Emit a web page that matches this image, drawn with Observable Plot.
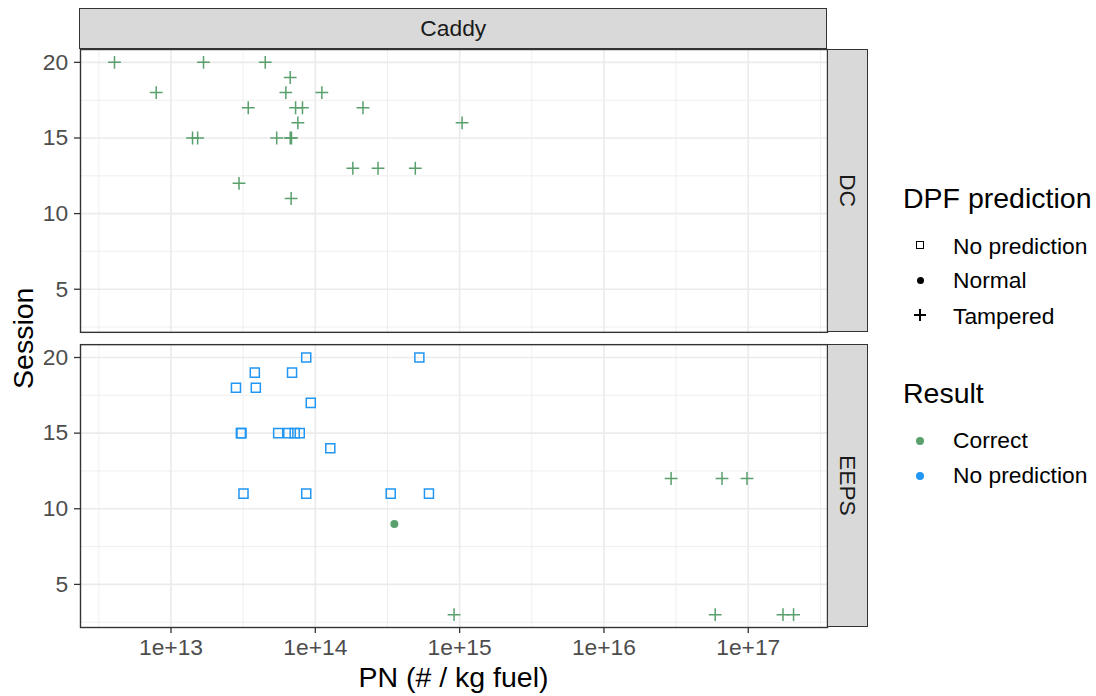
<!DOCTYPE html>
<html>
<head>
<meta charset="utf-8">
<script src="https://cdn.jsdelivr.net/npm/d3@7"></script>
<script src="https://cdn.jsdelivr.net/npm/@observablehq/plot@0.6"></script>
<style>
  body { margin: 0; background: #fff; }
  #wrap { position: relative; width: 1096px; height: 696px; overflow: hidden; background: #fff;
          font-family: "Liberation Sans", Arial, Helvetica, sans-serif; }
  #wrap > svg { position: absolute; left: 0; top: 0; }
  .strip { position: absolute; background: #d9d9d9; border: 1.4px solid #333; box-sizing: border-box;
           display: flex; align-items: center; justify-content: center; color: #1a1a1a; font-size: 22.8px; }
  .vtext { writing-mode: vertical-rl; }
  .lt { position: absolute; font-size: 28.5px; line-height: 28.5px; color: #000; white-space: nowrap; }
  .li { position: absolute; font-size: 22.8px; line-height: 22.8px; color: #000; white-space: nowrap; }
  .sw { position: absolute; box-sizing: border-box; }
</style>
</head>
<body>
<div id="wrap"></div>
<script>
// ---- data ----
const panels = ["DC", "EEPS"];
const predictions = ["No prediction", "Normal", "Tampered"];
const results = ["Correct", "No prediction"];
const resultColors = ["#59a06d", "#2196f3"];

// DC: all Tampered / Correct
const dcPN = [4.06e12, 1.68e13, 4.5e13, 6.7e13, 7.9e12, 6.25e13, 1.11e14, 3.43e13, 7.3e13, 8.15e13, 2.14e14,
              7.57e13, 1.04e15, 1.41e13, 1.53e13, 5.4e13, 6.7e13, 6.84e13, 1.82e14, 2.72e14, 4.93e14, 2.96e13, 6.8e13];
const dcSession = [20, 20, 20, 19, 18, 18, 18, 17, 17, 17, 17, 16, 16, 15, 15, 15, 15, 15, 13, 13, 13, 12, 11];

// EEPS: No prediction / No prediction
const eepsNoPredPN = [8.65e13, 5.26e14, 3.81e13, 6.9e13, 2.82e13, 3.87e13, 9.3e13, 3.05e13, 3.08e13, 5.53e13,
                      6.5e13, 7.2e13, 7.8e13, 1.27e14, 3.18e13, 8.65e13, 3.33e14, 6.13e14];
const eepsNoPredSession = [20, 20, 19, 19, 18, 18, 17, 15, 15, 15, 15, 15, 15, 14, 11, 11, 11, 11];

// EEPS: Normal / Correct
const eepsNormalPN = [3.53e14];
const eepsNormalSession = [9];

// EEPS: Tampered / Correct
const eepsTamperedPN = [2.92e16, 6.58e16, 9.8e16, 9.15e14, 5.9e16, 1.74e17, 2.06e17];
const eepsTamperedSession = [12, 12, 12, 3, 3, 3, 3];

// axis ticks
const xMajor = [1e13, 1e14, 1e15, 1e16, 1e17];
const xTickLabels = ["1e+13", "1e+14", "1e+15", "1e+16", "1e+17"];
const xMinor = [10 ** 12.5, 10 ** 13.5, 10 ** 14.5, 10 ** 15.5, 10 ** 16.5, 10 ** 17.5];
const yMajor = [5, 10, 15, 20];
const yMinor = [2.5, 7.5, 12.5, 17.5];

// ---- table ----
const rows = [];
const addRows = (panel, pn, session, prediction, result) =>
  pn.forEach((v, i) => rows.push({panel, pn: v, session: session[i], prediction, result}));
addRows("DC", dcPN, dcSession, "Tampered", "Correct");
addRows("EEPS", eepsNoPredPN, eepsNoPredSession, "No prediction", "No prediction");
addRows("EEPS", eepsNormalPN, eepsNormalSession, "Normal", "Correct");
addRows("EEPS", eepsTamperedPN, eepsTamperedSession, "Tampered", "Correct");

const byPred = p => rows.filter(d => d.prediction === p);
const grid = {stroke: "#ebebeb", strokeOpacity: 1};
const xLabel = d => xTickLabels[xMajor.indexOf(d)];

const chart = Plot.plot({
  width: 1096,
  height: 696,
  marginLeft: 80,
  marginRight: 269,
  marginTop: 49,
  marginBottom: 69,
  style: {fontFamily: "'Liberation Sans', Arial, Helvetica, sans-serif", background: "transparent", overflow: "visible"},
  x: {type: "log", domain: [10 ** 12.373, 10 ** 17.549]},
  y: {domain: [2.15, 20.85]},
  fy: {domain: panels, paddingInner: 0.0417, paddingOuter: 0, round: false, axis: null, label: null},
  color: {domain: results, range: resultColors},
  marks: [
    Plot.gridX(xMinor, {...grid, strokeWidth: 0.8}),
    Plot.gridY(yMinor, {...grid, strokeWidth: 0.8}),
    Plot.gridX(xMajor, {...grid, strokeWidth: 1.6}),
    Plot.gridY(yMajor, {...grid, strokeWidth: 1.6}),
    Plot.frame({stroke: "#333", strokeWidth: 1.4}),
    Plot.axisX(xMajor, {tickSize: 6, tickFormat: () => "", color: "#333", strokeWidth: 1.3, label: null}),
    Plot.axisX(xMajor, {tickSize: 0, tickPadding: 11, tickFormat: xLabel, color: "#4d4d4d", fontSize: 22.8, label: null}),
    Plot.axisY(yMajor, {tickSize: 6, tickFormat: () => "", color: "#333", strokeWidth: 1.3, label: null}),
    Plot.axisY(yMajor, {tickSize: 0, tickPadding: 12.3, color: "#4d4d4d", fontSize: 22.8, label: null}),
    Plot.dot(byPred("No prediction"), {x: "pn", y: "session", fy: "panel", symbol: "square", r: 5.1, fill: "none", stroke: "result", strokeWidth: 1.5}),
    Plot.dot(byPred("Normal"), {x: "pn", y: "session", fy: "panel", symbol: "circle", r: 4, fill: "result", stroke: "none"}),
    Plot.dot(byPred("Tampered"), {x: "pn", y: "session", fy: "panel", symbol: "plus", r: 4.2, stroke: "result", strokeWidth: 1.5})
  ]
});

const wrap = document.getElementById("wrap");
wrap.appendChild(chart);

function el(cls, style, text) {
  const d = document.createElement("div");
  d.className = cls;
  Object.assign(d.style, style);
  if (text != null) d.textContent = text;
  wrap.appendChild(d);
  return d;
}

// strips
el("strip", {left: "79.3px", top: "8px", width: "748px", height: "41.4px"}, "Caddy");
const s1 = el("strip", {left: "827.3px", top: "48.7px", width: "41px", height: "283.5px"});
const s1t = document.createElement("span"); s1t.className = "vtext"; s1t.textContent = panels[0]; s1.appendChild(s1t);
const s2 = el("strip", {left: "827.3px", top: "344.3px", width: "41px", height: "283px"});
const s2t = document.createElement("span"); s2t.className = "vtext"; s2t.textContent = panels[1]; s2.appendChild(s2t);

// axis titles
el("lt", {left: "253.5px", top: "663px", width: "400px", textAlign: "center"}, "PN (# / kg fuel)");
el("lt", {left: "-77px", top: "323.5px", width: "200px", textAlign: "center", transform: "rotate(-90deg)"}, "Session");

// legend: DPF prediction
el("lt", {left: "903px", top: "184.2px"}, "DPF prediction");
el("li", {left: "953px", top: "234.5px"}, predictions[0]);
el("li", {left: "953px", top: "269px"}, predictions[1]);
el("li", {left: "953px", top: "304.5px"}, predictions[2]);
el("sw", {left: "916px", top: "241px", width: "8px", height: "8px", border: "1.3px solid #000"});
el("sw", {left: "916.5px", top: "276.5px", width: "7px", height: "7px", borderRadius: "50%", background: "#000"});
el("sw", {left: "913.7px", top: "314.3px", width: "12.6px", height: "1.4px", background: "#000"});
el("sw", {left: "919.3px", top: "308.7px", width: "1.4px", height: "12.6px", background: "#000"});

// legend: Result
el("lt", {left: "903px", top: "379.2px"}, "Result");
el("li", {left: "953px", top: "429px"}, results[0]);
el("li", {left: "953px", top: "464px"}, results[1]);
el("sw", {left: "916px", top: "436.7px", width: "8px", height: "8px", borderRadius: "50%", background: resultColors[0]});
el("sw", {left: "916px", top: "472px", width: "8px", height: "8px", borderRadius: "50%", background: resultColors[1]});
</script>
</body>
</html>
